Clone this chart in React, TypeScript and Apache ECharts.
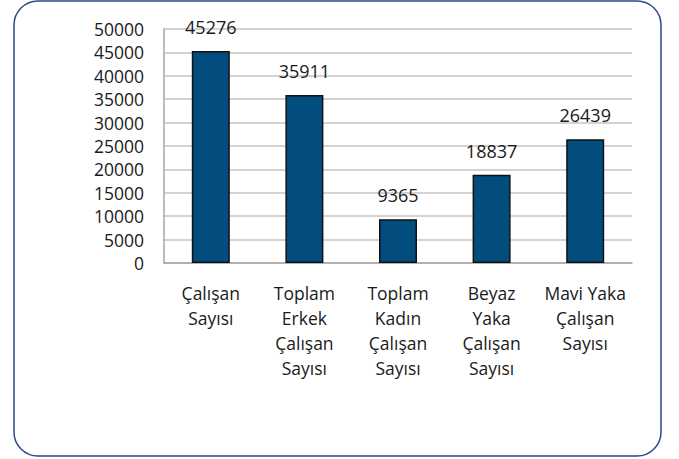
import React, { useEffect, useRef } from "react";
import * as echarts from "echarts";

const categories: string[] = [
  "Çalışan\nSayısı",
  "Toplam\nErkek\nÇalışan\nSayısı",
  "Toplam\nKadın\nÇalışan\nSayısı",
  "Beyaz\nYaka\nÇalışan\nSayısı",
  "Mavi Yaka\nÇalışan\nSayısı",
];
const values: number[] = [45276, 35911, 9365, 18837, 26439];
const yMin = 0;
const yMax = 50000;
const yInterval = 5000;

const FONT = "'Open Sans', 'Noto Sans', sans-serif";

export default function App() {
  const ref = useRef<HTMLDivElement>(null);
  useEffect(() => {
    if (!ref.current) return;
    const chart = echarts.init(ref.current, undefined, { renderer: "svg" });
    chart.setOption({
      animation: false,
      backgroundColor: "#ffffff",
      textStyle: { fontFamily: FONT },
      grid: { left: 164, right: 47, top: 29, bottom: 196, containLabel: false },
      xAxis: {
        type: "category",
        data: categories,
        axisLine: { show: true, lineStyle: { color: "#a6a6a6", width: 1.5 } },
        axisTick: { show: false },
        axisLabel: {
          interval: 0,
          margin: 17,
          fontSize: 17.5,
          lineHeight: 25,
          color: "#1a1a1a",
          fontFamily: FONT,
          align: "center",
        },
      },
      yAxis: {
        type: "value",
        min: yMin,
        max: yMax,
        interval: yInterval,
        axisLine: { show: true, lineStyle: { color: "#a6a6a6", width: 1.5 } },
        axisTick: { show: false },
        splitLine: { show: true, lineStyle: { color: "#c4c4c4", width: 1.5 } },
        axisLabel: {
          margin: 20,
          fontSize: 17.5,
          color: "#1a1a1a",
          fontFamily: FONT,
          formatter: (v: number) => String(v),
        },
      },
      series: [
        {
          type: "bar",
          data: values,
          barWidth: 38,
          itemStyle: {
            color: "#034d7e",
            borderColor: "#111111",
            borderWidth: 1.5,
          },
          label: {
            show: true,
            position: "top",
            distance: 15,
            fontSize: 18,
            color: "#1a1a1a",
            fontFamily: FONT,
          },
        },
      ],
      graphic: [
        {
          type: "rect",
          shape: { x: 14, y: 1, width: 647, height: 455, r: 24 },
          style: { fill: "none", stroke: "#2b4a86", lineWidth: 1.5 },
          silent: true,
        },
      ],
    });
    return () => chart.dispose();
  }, []);
  return (
    <div
      ref={ref}
      style={{ position: "absolute", left: 0, top: 0, width: 679, height: 459 }}
    />
  );
}
